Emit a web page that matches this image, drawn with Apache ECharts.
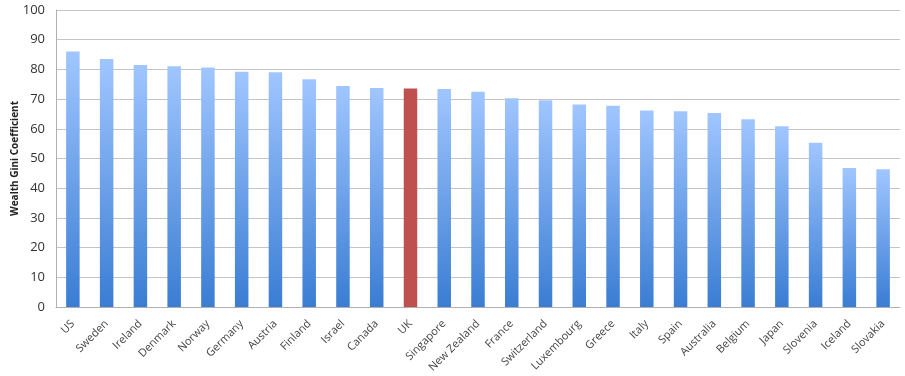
<!DOCTYPE html>
<html>
<head>
<meta charset="utf-8">
<script src="https://cdn.jsdelivr.net/npm/echarts@6/dist/echarts.min.js"></script>
<style>
html,body{margin:0;padding:0;background:#fff;}
#chart{width:905px;height:376px;}
</style>
</head>
<body>
<div id="chart"></div>
<script>
const countries = ["US","Sweden","Ireland","Denmark","Norway","Germany","Austria","Finland","Israel","Canada","UK","Singapore","New Zealand","France","Switzerland","Luxembourg","Greece","Italy","Spain","Australia","Belgium","Japan","Slovenia","Iceland","Slovakia"];
const giniValues = [86.0,83.5,81.5,81.1,80.6,79.2,79.0,76.7,74.4,73.7,73.6,73.4,72.5,70.3,69.6,68.2,67.8,66.2,65.9,65.3,63.2,60.9,55.3,46.8,46.4];
const highlightCountry = "UK";
const yTicks = [0,10,20,30,40,50,60,70,80,90,100];

const blueGrad = new echarts.graphic.LinearGradient(0,0,0,1,[
  {offset:0,color:'#a0c6ff'},
  {offset:1,color:'#3a7dd3'}
]);
const redColor = '#c0504d';

const data = countries.map((c,i)=>({
  value: giniValues[i],
  itemStyle: {color: c===highlightCountry ? redColor : blueGrad}
}));

const font = '"Open Sans", "DejaVu Sans", sans-serif';
const chart = echarts.init(document.getElementById('chart'));
chart.setOption({
  animation:false,
  grid:{left:56,right:5,top:10,bottom:69,containLabel:false,outerBoundsMode:'none'},
  xAxis:{
    type:'category',
    data:countries,
    axisLine:{lineStyle:{color:'#b0b0b0',width:1}},
    axisTick:{show:false},
    axisLabel:{interval:0,rotate:45,fontSize:11,color:'#444',margin:15,fontFamily:font}
  },
  yAxis:{
    type:'value',
    min:yTicks[0],max:yTicks[yTicks.length-1],interval:10,
    name:'Wealth Gini Coefficient',
    nameLocation:'middle',
    nameGap:36,
    nameMoveOverlap:false,
    nameTextStyle:{fontSize:10,fontWeight:'bold',color:'#222',fontFamily:font},
    axisLine:{show:true,lineStyle:{color:'#b0b0b0'}},
    axisTick:{show:false},
    splitLine:{lineStyle:{color:'#c4c4c4',width:1}},
    axisLabel:{fontSize:13,color:'#333',margin:11,fontFamily:font}
  },
  series:[{
    type:'bar',
    data:data,
    barWidth:'40%'
  }]
});
</script>
</body>
</html>
